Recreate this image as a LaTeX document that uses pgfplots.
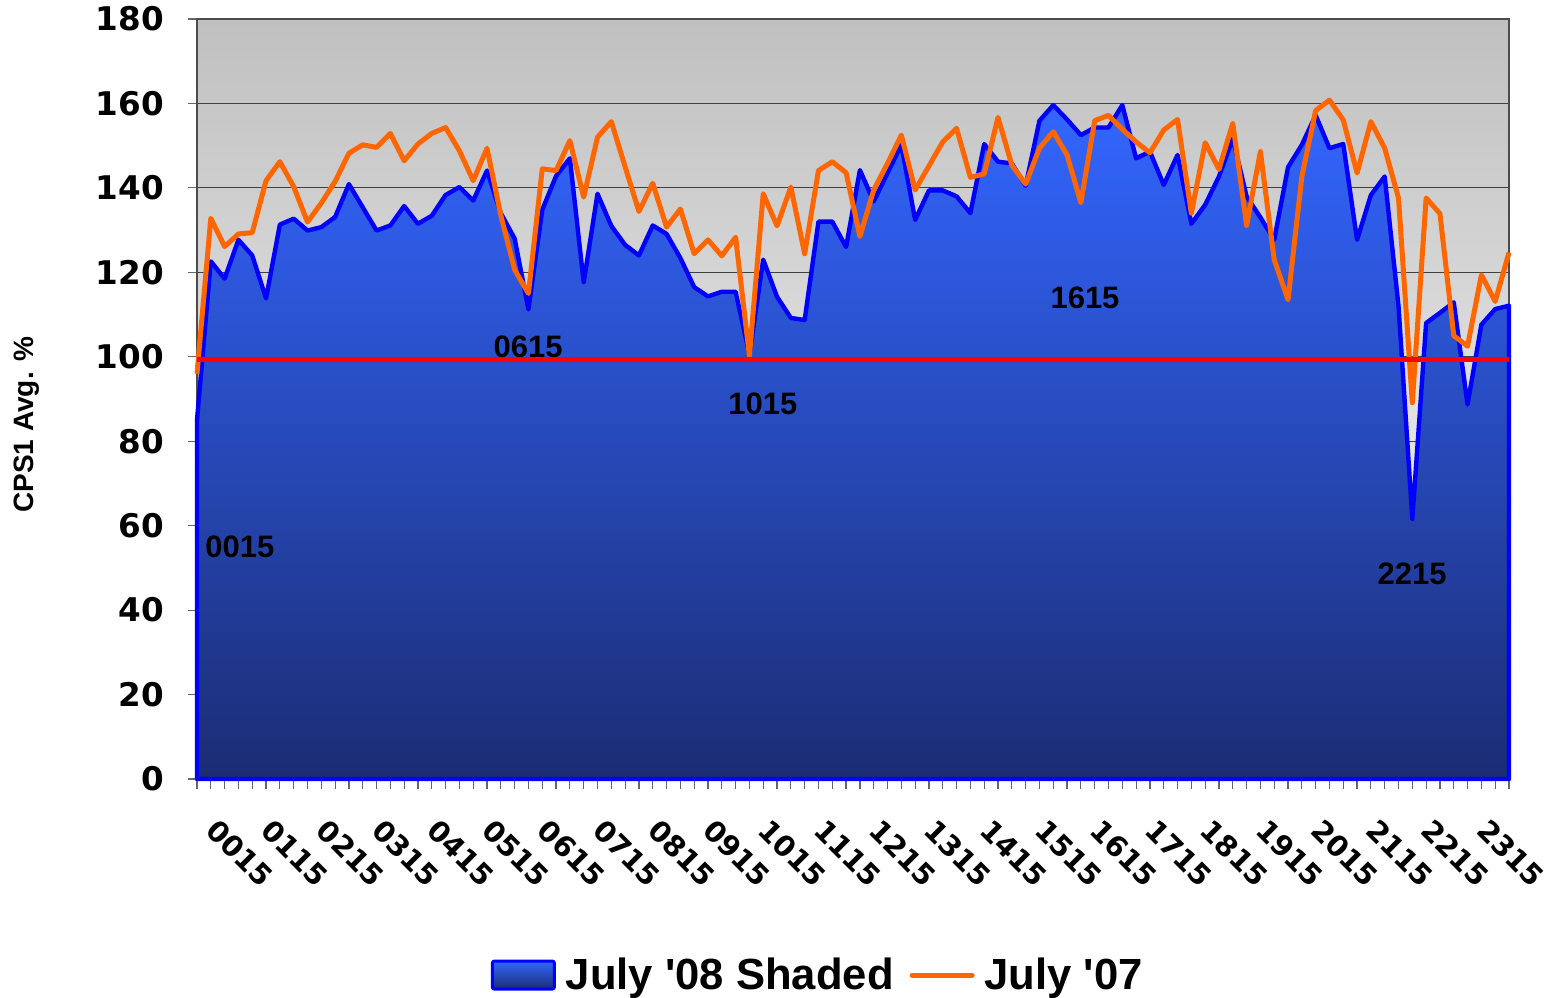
\documentclass[border=0pt]{standalone}
\usepackage{pgfplots}
\usepackage{pgfplotstable}
\pgfplotsset{compat=1.18}
\usepackage{fontspec}
\setmainfont{Liberation Sans}
\newfontfamily\tickfont{DejaVu Sans}
\definecolor{bgtop}{RGB}{192,192,192}
\definecolor{areatop}{RGB}{51,102,255}
\definecolor{areabot}{RGB}{27,44,115}
\definecolor{orangeline}{RGB}{255,102,0}
\definecolor{gridc}{RGB}{64,64,64}

\pgfplotsset{
  areaimg/.style={legend image code/.code={\draw[##1, line width=1.5pt, rounded corners=1pt] (0pt,-7pt) rectangle (31pt,7pt);}},
  lineimg/.style={legend image code/.code={\draw[##1, line cap=round] (0pt,0pt) -- (30pt,0pt);}},
}

\pgfplotstableread{
i b o
0 85 96
1 122.6 132.8
2 118.5 126.1
3 127.7 129.1
4 124.0 129.4
5 113.8 141.7
6 131.3 146.2
7 132.7 140.3
8 129.9 131.9
9 130.7 136.4
10 133.1 141.5
11 140.9 148.2
12 135.4 150.2
13 129.9 149.6
14 131.1 152.9
15 135.7 146.4
16 131.5 150.4
17 133.4 152.9
18 138.3 154.3
19 140.2 148.8
20 137.0 141.7
21 144.1 149.4
22 134.0 133.5
23 128.0 120.6
24 111.2 115.0
25 134.8 144.5
26 142.8 144.1
27 147.0 151.2
28 117.6 137.8
29 138.6 152.0
30 131.0 155.7
31 126.5 145.0
32 124.0 134.4
33 131.1 141.1
34 129.1 130.7
35 123.4 135.0
36 116.5 124.4
37 114.3 127.7
38 115.4 123.9
39 115.4 128.3
40 100.5 100.2
41 123.0 138.6
42 114.2 131.0
43 109.2 140.2
44 108.7 124.4
45 132.0 144.1
46 132.0 146.2
47 126.0 143.6
48 144.2 128.5
49 136.8 139.5
50 143.5 145.8
51 150.2 152.5
52 132.4 139.5
53 139.4 145.2
54 139.4 150.9
55 138.0 154.1
56 134.0 142.5
57 150.4 143.3
58 146.2 156.7
59 145.8 145.4
60 140.5 140.9
61 155.9 149.4
62 159.6 153.3
63 156.2 147.8
64 152.5 136.5
65 154.3 155.9
66 154.3 157.2
67 159.6 153.9
68 147.0 150.9
69 148.6 148.3
70 140.7 153.7
71 147.8 156.2
72 131.5 134.0
73 136.0 150.7
74 142.7 144.4
75 151.7 155.3
76 138.0 131.1
77 133.0 148.6
78 127.7 123.0
79 144.9 113.5
80 150.2 142.7
81 157.2 158.3
82 149.4 160.8
83 150.4 156.1
84 127.7 143.5
85 138.3 155.7
86 142.7 149.4
87 112.0 137.6
88 61.6 89.1
89 108.0 137.6
90 110.4 133.9
91 112.9 105.0
92 88.7 102.5
93 107.6 119.4
94 111.3 113.1
95 112.1 124.7
}\data

\begin{document}
\begin{tikzpicture}
\begin{axis}[
  at={(0pt,0pt)}, anchor=south west,
  scale only axis, width=656pt, height=380pt,
  xmin=0, xmax=95, ymin=0, ymax=180,
  ytick={0,20,...,180},
  xtick={0,4,...,92},
  xticklabels={0015,0115,0215,0315,0415,0515,0615,0715,0815,0915,1015,1115,1215,1315,1415,1515,1615,1715,1815,1915,2015,2115,2215,2315},
  minor xtick={0,...,95},
  tick align=outside, major tick length=4.5pt, minor tick length=5pt,
  tick pos=left,
  ymajorgrids, grid style={draw=gridc, line width=0.5pt},
  axis background/.style={top color=bgtop, bottom color=white},
  axis line style={draw=black!70, line width=0.8pt},
  tick style={draw=black!60, line width=0.6pt},
  /pgf/number format/assume math mode=true,
  yticklabel style={font=\tickfont\bfseries\fontsize{16.3}{16.3}\selectfont, xshift=-8.5pt},
  xticklabel style={font=\tickfont\bfseries\fontsize{14.3}{14.3}\selectfont, xshift=21.5pt, yshift=-32.5pt, rotate=-45, anchor=center},
  ylabel={CPS1 Avg. \%},
  ylabel style={font=\bfseries\fontsize{14}{14}\selectfont, at={(axis description cs:-0.1296,0.466)}, anchor=center},
  clip=false,
  legend style={at={(axis description cs:0.474,-0.258)}, anchor=center, draw=none, fill=none,
    legend columns=2, font=\bfseries\fontsize{21.8}{21.8}\selectfont,
    /tikz/every odd column/.append style={column sep=3pt},
    /tikz/every even column/.append style={column sep=6pt}},
]
\addplot[draw=blue, line width=2.2pt, line join=round, top color=areatop, bottom color=areabot, areaimg]
  table[x=i, y=b] {\data} \closedcycle;
\addlegendentry{July \textquotesingle08 Shaded}
\addplot[draw=orangeline, line width=2.5pt, line join=round, mark=none, lineimg]
  table[x=i, y=o] {\data};
\addlegendentry{July \textquotesingle07}
\addplot[draw=red, line width=2.5pt, mark=none, forget plot] coordinates {(0,99.3) (95,99.3)};
\node[font=\bfseries\fontsize{15.5}{15.5}\selectfont] at (axis cs:3.11,54.9) {0015};
\node[font=\bfseries\fontsize{15.5}{15.5}\selectfont] at (axis cs:23.97,102.3) {0615};
\node[font=\bfseries\fontsize{15.5}{15.5}\selectfont] at (axis cs:40.98,88.8) {1015};
\node[font=\bfseries\fontsize{15.5}{15.5}\selectfont] at (axis cs:64.3,113.9) {1615};
\node[font=\bfseries\fontsize{15.5}{15.5}\selectfont] at (axis cs:87.98,48.6) {2215};
\end{axis}
\pgfresetboundingbox
\path[use as bounding box] (-98.5pt,-109pt) rectangle (678pt,389.5pt);
\end{tikzpicture}
\end{document}
